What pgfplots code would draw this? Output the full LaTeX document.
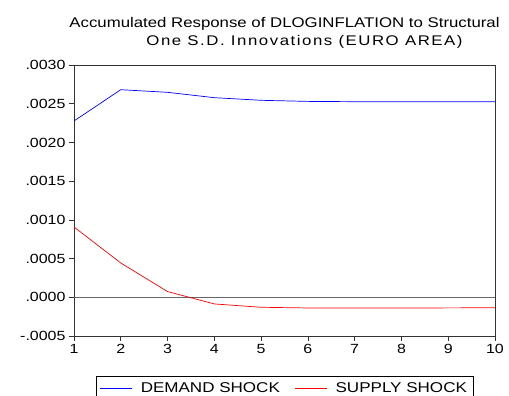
\documentclass[border=0pt]{standalone}
\usepackage{fontspec}
\setmainfont{Liberation Sans}[FakeStretch=1.2]
\newfontfamily\titlewide{Liberation Sans}[FakeStretch=1.2, LetterSpace=11]
\usepackage{pgfplots}
\pgfplotsset{compat=1.18}
\begin{document}
\begin{tikzpicture}
\begin{axis}[
    scale only axis,
    width=421pt, height=271pt,
    xmin=1, xmax=10,
    ymin=-0.0005, ymax=0.0030,
    xtick={1,2,3,4,5,6,7,8,9,10},
    xticklabels={1,2,3,4,5,6,7,8,9,10},
    ytick={-0.0005,0,0.0005,0.0010,0.0015,0.0020,0.0025,0.0030},
    yticklabels={-.0005,.0000,.0005,.0010,.0015,.0020,.0025,.0030},
    scaled y ticks=false,
    tick align=outside,
    major tick length=5pt,
    xtick pos=bottom, ytick pos=left,
    axis line style={black!80, line width=0.8pt},
    every tick/.style={black!80, line width=0.6pt},
    tick label style={font=\fontsize{13.3}{15}\selectfont},
    title={Accumulated Response of DLOGINFLATION to Structural\\\hspace*{40pt}{\titlewide One S.D. Innovations (EURO AREA)}},
    title style={font=\fontsize{14}{18}\selectfont, align=center, yshift=7pt},
    legend columns=2,
    legend style={at={(0.5,-0.1476)}, anchor=north, line width=0.6pt,
        font=\fontsize{14.2}{16}\selectfont, inner xsep=4pt, inner ysep=4pt,
        /tikz/every odd column/.append style={column sep=6pt},
        /tikz/every even column/.append style={column sep=13pt}},
    legend image code/.code={\draw[#1] (0pt,0pt) -- (32pt,0pt);},
]
\addplot[black!60, line width=0.8pt, forget plot] coordinates {(1,0) (10,0)};
\addplot[draw=blue, line width=0.7pt] coordinates {
    (1,0.002277) (2,0.002681) (3,0.002647) (4,0.002578) (5,0.002544)
    (6,0.002530) (7,0.002526) (8,0.002525) (9,0.002525) (10,0.002525)};
\addplot[draw=red, line width=0.7pt] coordinates {
    (1,0.000908) (2,0.000443) (3,0.000074) (4,-0.000086) (5,-0.000129)
    (6,-0.000138) (7,-0.000138) (8,-0.000138) (9,-0.000137) (10,-0.000135)};
\legend{DEMAND SHOCK, SUPPLY SHOCK}
\end{axis}
\pgfresetboundingbox
\path[use as bounding box] (-74pt,-60pt) rectangle (435pt,336pt);
\end{tikzpicture}
\end{document}
